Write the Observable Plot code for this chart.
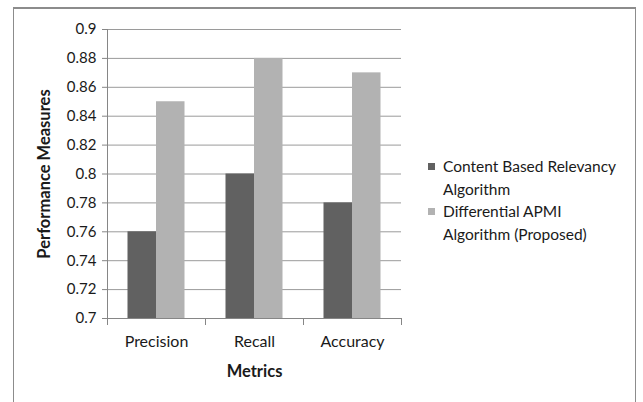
<!DOCTYPE html>
<html>
<head>
<meta charset="utf-8">
<script src="https://cdn.jsdelivr.net/npm/d3@7"></script>
<script src="https://cdn.jsdelivr.net/npm/@observablehq/plot@0.6"></script>
<style>
  html, body { margin: 0; padding: 0; background: #fff; }
  #wrap { position: relative; width: 643px; height: 402px; overflow: hidden; font-family: Lato, "Open Sans", sans-serif; }
  #border { position: absolute; left: 13px; top: 7px; width: 623px; height: 420px; border: 1px solid #8c8c8c; border-top: 2px solid #8c8c8c; box-sizing: border-box; }
  #chart { position: absolute; left: 0; top: 0; }
  #legend { position: absolute; left: 428px; top: 155px; font-size: 15.5px; color: #1a1a1a; line-height: 22.6px; }
  .item { position: relative; padding-left: 15px; }
  .sw { position: absolute; left: 0; top: 8px; width: 7px; height: 7px; }
</style>
</head>
<body>
<div id="wrap">
  <div id="border"></div>
  <div id="chart"></div>
  <div id="legend"></div>
</div>
<script>
const categories = ["Precision", "Recall", "Accuracy"];
const seriesNames = ["Content Based Relevancy Algorithm", "Differential APMI Algorithm (Proposed)"];
const legendLines = [["Content Based Relevancy", "Algorithm"], ["Differential APMI", "Algorithm (Proposed)"]];
const contentBased = [0.76, 0.80, 0.78];
const differentialAPMI = [0.85, 0.88, 0.87];
const yTicks = [0.7, 0.72, 0.74, 0.76, 0.78, 0.8, 0.82, 0.84, 0.86, 0.88, 0.9];
const colors = ["#616161", "#b2b2b2"];

const rowsA = categories.map((c, i) => ({metric: c, series: seriesNames[0], value: contentBased[i]}));
const rowsB = categories.map((c, i) => ({metric: c, series: seriesNames[1], value: differentialAPMI[i]}));
const base = yTicks[0];

const chart = Plot.plot({
  width: 643,
  height: 402,
  marginLeft: 107,
  marginRight: 242,
  marginTop: 29,
  marginBottom: 84,
  style: {fontFamily: "Lato, 'Open Sans', sans-serif", fontSize: "15px", color: "#1a1a1a", background: "transparent"},
  x: {domain: categories, padding: 0},
  y: {domain: [yTicks[0], yTicks[yTicks.length - 1]]},
  marks: [
    Plot.gridY(yTicks, {stroke: "#9a9a9a", strokeOpacity: 1}),
    Plot.barY(rowsA, {x: "metric", y1: base, y2: "value", fill: colors[0], dx: -14.25, insetLeft: 34.75, insetRight: 34.75}),
    Plot.barY(rowsB, {x: "metric", y1: base, y2: "value", fill: colors[1], dx: 14.25, insetLeft: 34.75, insetRight: 34.75}),
    Plot.ruleY([base], {stroke: "#868686"}),
    Plot.ruleX([categories[0]], {x: d => d, dx: -49, stroke: "#868686"}),
    Plot.ruleX(categories, {x: d => d, dx: -49, y1: base, y2: base, insetBottom: -7, stroke: "#868686"}),
    Plot.ruleX([categories[categories.length - 1]], {x: d => d, dx: 49, y1: base, y2: base, insetBottom: -7, stroke: "#868686"}),
    Plot.axisY(yTicks, {
      tickSize: 5, tickPadding: 6, stroke: "#868686",
      tickFormat: d => String(+d.toFixed(2)),
      label: "Performance Measures", labelAnchor: "center", labelOffset: 69, labelArrow: "none",
      fontSize: 15
    }),
    Plot.axisX({tickSize: 0, tickPadding: 17, label: "Metrics", labelAnchor: "center", labelOffset: 58, labelArrow: "none", fontSize: 16})
  ]
});
chart.querySelectorAll("[aria-label='y-axis label'] text, [aria-label='x-axis label'] text").forEach(t => {
  t.setAttribute("font-weight", "bold");
  t.setAttribute("font-size", "16.5");
  t.textContent = t.textContent.replace(/\s*[↑→↓←]\s*/g, "");
});
document.getElementById("chart").appendChild(chart);

const legend = document.getElementById("legend");
legendLines.forEach((lines, i) => {
  const item = document.createElement("div");
  item.className = "item";
  const sw = document.createElement("span");
  sw.className = "sw";
  sw.style.background = colors[i];
  item.appendChild(sw);
  lines.forEach(l => {
    const d = document.createElement("div");
    d.textContent = l;
    item.appendChild(d);
  });
  legend.appendChild(item);
});
</script>
</body>
</html>
